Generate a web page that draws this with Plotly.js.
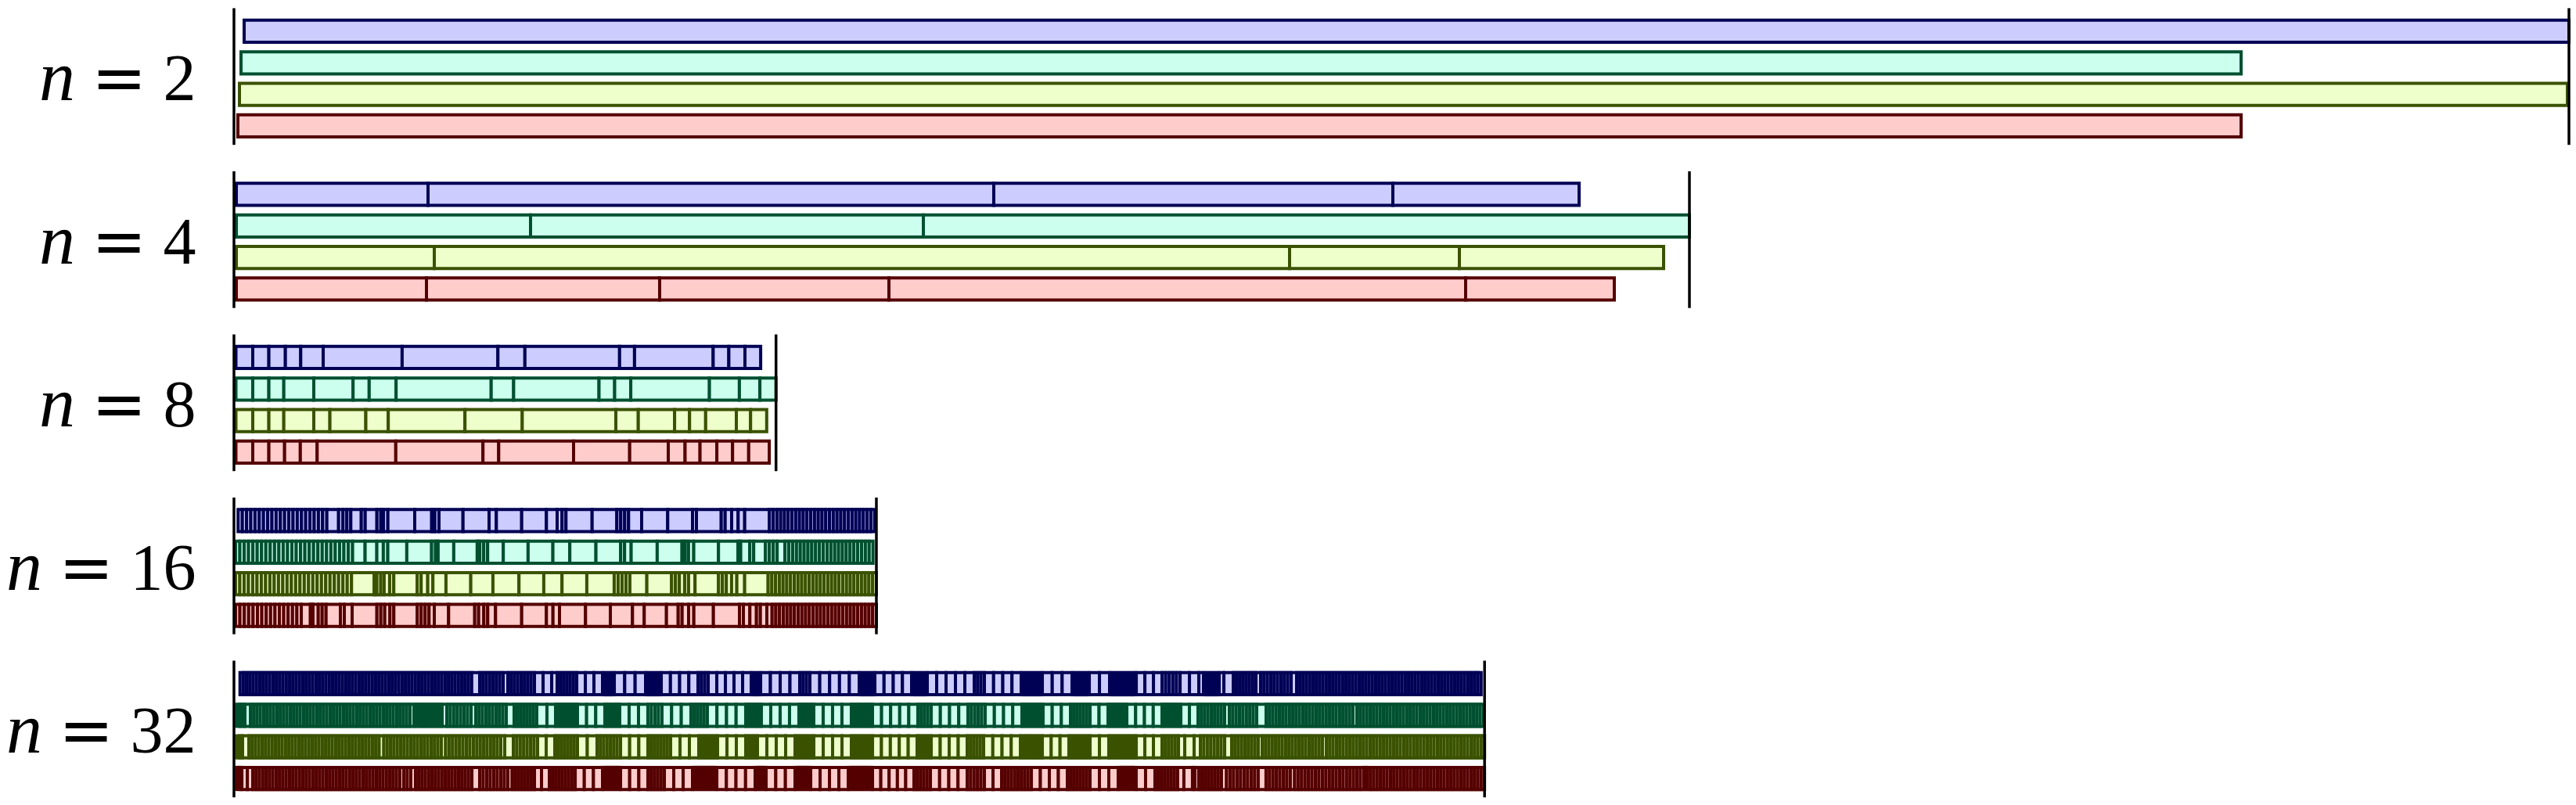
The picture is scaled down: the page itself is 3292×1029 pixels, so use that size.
<!DOCTYPE html>
<html><head><meta charset="utf-8">
<script src="https://cdn.plot.ly/plotly-3.0.1.min.js"></script>
<style>html,body{margin:0;padding:0;background:#fff}#chart{width:3292px;height:1029px}</style>
</head><body><div id="chart"></div>
<script>
// Group labels (value of n) and row colours (blue, cyan, yellow, red)
const groupLabels = ["2", "4", "8", "16", "32"];
const fillColors = ["#ccccff", "#ccffee", "#eeffcc", "#ffcccc"];
const edgeColors = ["#000055", "#005030", "#3a5200", "#550000"];

// Start times of each row (blue, cyan, yellow, red), same time unit as the segments
const starts_n2 = [13, 9, 7, 5];
const starts_n4 = [3, 3, 3, 3];
const starts_n8 = [2.5, 2.5, 2.5, 2.5];
const starts_n16 = [5.3, 2, 2, 2];
const starts_n32 = [7.7, 3.3, 3.3, 3.3];

// Segment durations
const n2_blue = [2971];
const n2_cyan = [2556];
const n2_yellow = [2975];
const n2_red = [2560];

const n4_blue = [245, 723, 510, 238];
const n4_cyan = [376, 502, 979];
const n4_yellow = [253, 1093, 217, 261];
const n4_red = [243, 298, 293, 737, 190];

const n8_blue = [21.5, 20.6, 21.1, 19.6, 28.7, 100.9, 122.4, 34.5, 121, 19.1, 100.5, 20, 20.6, 20.1];
const n8_cyan = [21.5, 20.6, 19.1, 38.3, 50.2, 20.6, 34.4, 121.5, 28.7, 109.1, 20, 20.6, 100.5, 38.3, 26.2, 20.6];
const n8_yellow = [21.5, 20.6, 19.1, 38.3, 20.6, 45.9, 28.7, 98, 73.2, 119.6, 28.7, 46.4, 19.1, 20.6, 39.2, 18.2, 20.6];
const n8_red = [21.5, 20.6, 20.1, 20.1, 21.5, 100.5, 111.4, 20.1, 95.7, 71.7, 49.3, 21.5, 19.1, 21.5, 20.1, 20.6, 26.3];

const n16_blue = [
5.4,5.4,5.4,5.4,5.4,5.4,5.4,5.4,5.4,5.4,5.4,5.4,5.4,5.4,5.4,5.4,5.4,5.4,5.4,5.4,5.4,
15,5.6,5,5,13.4,5,15,5,3.3,5.7,34.3,21.7,4,5.3,30.7,33.3,9.3,32.4,31.6,13.7,6.3,5,33.4,31.6,5,5,5,16.7,33.3,31.7,5,31.7,5,8.3,8.3,8.4,31.6,
4.8,4.8,4.8,4.8,4.8,4.8,4.8,4.8,4.8,4.8,4.8,4.8,4.8,4.8,4.8,4.8,4.8,4.8,4.8,4.8,4.8,4.8,4.8,4.8,4.8,4.8,4.8,4.8];
const n16_cyan = [
5.54,5.54,5.54,5.54,5.54,5.54,5.54,5.54,5.54,5.54,5.54,5.54,5.54,5.54,5.54,5.54,5.54,5.54,5.54,5.54,5.54,5.54,5.54,5.54,5.54,5.54,5.54,
16,15,8.3,5.7,24.3,31.7,5,3.3,20,30,3.3,5,5,20,31.7,31.7,21.6,33.4,31.6,5,8.4,33.3,31.7,4,4.3,6.7,31.6,25,3.4,11.6,5,15,5,5,5,10,
4.89,4.89,4.89,4.89,4.89,4.89,4.89,4.89,4.89,4.89,4.89,4.89,4.89,4.89,4.89,4.89,4.89,4.89,4.89,4.89,4.89,4.89,4.89];
const n16_yellow = [
5.49,5.49,5.49,5.49,5.49,5.49,5.49,5.49,5.49,5.49,5.49,5.49,5.49,5.49,5.49,5.49,5.49,5.49,5.49,5.49,5.49,5.49,5.49,5.49,5.49,5.49,5.49,
29,3.4,5,4.3,7,5.3,30,5,8.4,6.6,16.7,31.7,28.3,33.3,31.7,23.3,31.7,35,5,5,5,5,21.7,31.6,5,5,6.7,5,8.3,30,5,5,6.7,6.7,10,30,
4.77,4.77,4.77,4.77,4.77,4.77,4.77,4.77,4.77,4.77,4.77,4.77,4.77,4.77,4.77,4.77,4.77,4.77,4.77,4.77,4.77,4.77,4.77,4.77,4.77,4.77,4.77,4.77,4.77];
const n16_red = [
5.6,5.6,5.6,5.6,5.6,5.6,5.6,5.6,5.6,5.6,5.6,5.6,5.6,5.6,5.6,
11.7,3.3,6.7,5,5,18.3,5,10,31.7,5,5,6.6,5,30,5,5,5,6.7,18.3,33.4,5,6.6,5,10,33.4,31.6,8.4,8.3,33.3,31.7,28.3,15,28.4,15,5,8.3,6.7,25,33.3,5,8.3,8.4,5,8.3,6.7,
4.76,4.76,4.76,4.76,4.76,4.76,4.76,4.76,4.76,4.76,4.76,4.76,4.76,4.76,4.76,4.76,4.76,4.76,4.76,4.76,4.76,4.76,4.76,4.76,4.76,4.76,4.76,4.76];

const n32_blue = [
4.23,4.23,4.23,4.23,4.23,4.23,4.23,4.23,4.23,4.23,
4.23,4.23,4.23,4.23,4.23,4.23,4.23,4.23,4.23,4.23,
4.23,4.23,4.23,4.23,4.23,4.23,4.23,4.23,4.23,4.23,
4.23,4.23,4.23,4.23,4.23,4.23,4.23,4.23,4.23,4.23,
4.23,4.23,4.23,4.23,4.23,4.23,4.23,4.23,4.23,4.23,
4.23,4.23,4.23,4.23,4.23,4.23,4.23,4.23,4.23,4.23,
4.23,4.23,4.23,4.23,4.23,4.23,4.23,4.23,4.23,4.23,
10.2,
4.29,4.29,4.29,4.29,4.29,4.29,4.29,
6,
4.25,4.25,4.25,4.25,4.25,4.25,4.25,4.25,
11,11,7,
4.17,4.17,4.17,4.17,4.17,4.17,
11,11,11,
3.75,3.75,3.75,3.75,
13.3,13.3,13.4,
4,4,4,4,4,
11.75,11.75,11.75,11.75,
4.33,4.33,4.33,
11,11,11,11,11,
4,4,4,
12.5,12.5,12.5,12.5,
4.33,4.33,4.33,
12.6,12.6,12.6,12.6,12.6,
4,4,4,4,4,
11.75,11.75,11.75,11.75,
4,4,4,4,4,
12,12,12,12,12,
4.33,4.33,4.33,
11.75,11.75,11.75,11.75,
3.86,3.86,3.86,3.86,3.86,3.86,3.86,
12.67,12.67,12.67,
3.67,3.67,3.67,3.67,3.67,3.67,
13,13,
3.78,3.78,3.78,3.78,3.78,3.78,3.78,3.78,3.78,
11,11,11,
4.6,4.6,4.6,4.6,4.6,
12,12,6,
4,4,4,4,4,
6,12,
4.14,4.14,4.14,4.14,4.14,4.14,4.14,
6,
4.33,4.33,4.33,4.33,4.33,4.33,4.33,4.33,4.33,
7,
4.21,4.21,4.21,4.21,4.21,4.21,4.21,4.21,4.21,4.21,
4.21,4.21,4.21,4.21,4.21,4.21,4.21,4.21,4.21,4.21,
4.21,4.21,4.21,4.21,4.21,4.21,4.21,4.21,4.21,4.21,
4.21,4.21,4.21,4.21,4.21,4.21,4.21,4.21,4.21,4.21,
4.21,4.21,4.21,4.21,4.21,4.21,4.21,4.21,4.21,4.21,
4.21,4.21,4.21,4.21,4.21,4.21];

const n32_cyan = [
3.57,3.57,3.57,
7,
4.25,4.25,4.25,4.25,4.25,4.25,4.25,4.25,4.25,4.25,
4.25,4.25,4.25,4.25,4.25,4.25,4.25,4.25,4.25,4.25,
4.25,4.25,4.25,4.25,4.25,4.25,4.25,4.25,4.25,4.25,
4.25,4.25,4.25,4.25,4.25,4.25,4.25,4.25,4.25,4.25,
4.25,4.25,4.25,4.25,4.25,4.25,4.25,4.25,
5,
4,4,4,4,4,4,4,4,4,
6,
4.43,4.43,4.43,4.43,4.43,4.43,4.43,
6,
4.33,4.33,4.33,4.33,4.33,4.33,4.33,4.33,4.33,
10,
4.14,4.14,4.14,4.14,4.14,4.14,4.14,
13,11,
4,4,4,4,4,4,4,
11.67,11.67,11.67,
3.8,3.8,3.8,3.8,3.8,
12,12,12,
4.5,4.5,4.5,4.5,
12.33,12.33,12.33,
4.2,4.2,4.2,4.2,4.2,
12.25,12.25,12.25,12.25,
4,4,4,4,4,
12,12,12,12,
3.8,3.8,3.8,3.8,3.8,
12,12,12,12,
3.86,3.86,3.86,3.86,3.86,3.86,3.86,
11.6,11.6,11.6,11.6,11.6,
4.25,4.25,4.25,4.25,
11.75,11.75,11.75,11.75,
4.4,4.4,4.4,4.4,4.4,
11.75,11.75,11.75,11.75,
3.86,3.86,3.86,3.86,3.86,3.86,3.86,
11.67,11.67,11.67,
4.17,4.17,4.17,4.17,4.17,4.17,
11.5,11.5,
4,4,4,4,4,4,
11.25,11.25,11.25,11.25,
4,4,4,4,4,4,
11,11,
4.25,4.25,4.25,4.25,4.25,4.25,4.25,4.25,
6,
4.375,4.375,4.375,4.375,4.375,4.375,4.375,4.375,
12,
4.27,4.27,4.27,4.27,4.27,4.27,4.27,4.27,4.27,4.27,
4.27,4.27,4.27,4.27,4.27,4.27,4.27,4.27,4.27,4.27,
4.27,4.27,4.27,4.27,4.27,4.27,
5,
4.26,4.26,4.26,4.26,4.26,4.26,4.26,4.26,4.26,4.26,
4.26,4.26,4.26,4.26,4.26,4.26,4.26,4.26,4.26,4.26,
4.26,4.26,4.26,4.26,4.26,4.26,4.26,4.26,4.26,4.26,
4.26,4.26,4.26,4.26,4.26,4.26,4.26,4.26];

const n32_yellow = [
3.85,3.85,
8,
4.27,4.27,4.27,4.27,4.27,4.27,4.27,4.27,4.27,4.27,
4.27,4.27,4.27,4.27,4.27,4.27,4.27,4.27,4.27,4.27,
4.27,4.27,4.27,4.27,4.27,4.27,4.27,4.27,4.27,4.27,
4.27,4.27,4.27,4.27,4.27,4.27,4.27,4.27,4.27,
6,
4.32,4.32,4.32,4.32,4.32,4.32,4.32,4.32,4.32,4.32,
4.32,4.32,4.32,4.32,4.32,4.32,4.32,
5.5,
4.44,4.44,4.44,4.44,4.44,4.44,4.44,4.44,
4.5,
4.36,4.36,4.36,4.36,4.36,4.36,4.36,
5,11,
4.43,4.43,4.43,4.43,4.43,4.43,4.43,
11,11,
4.14,4.14,4.14,4.14,4.14,4.14,4.14,
12.5,12.5,
4.29,4.29,4.29,4.29,4.29,4.29,4.29,
11.67,11.67,11.67,
4.14,4.14,4.14,4.14,4.14,4.14,4.14,
12,12,12,
4,4,4,4,4,4,
12,12,12,
3.75,3.75,3.75,3.75,
12,12,12,12,
4,4,4,4,4,4,
12,12,12,12,
3.86,3.86,3.86,3.86,3.86,3.86,3.86,
11.4,11.4,11.4,11.4,11.4,
3.6,3.6,3.6,3.6,3.6,
11.5,11.5,11.5,11.5,
4.2,4.2,4.2,4.2,4.2,
11.75,11.75,11.75,11.75,
4,4,4,4,4,4,4,
11.33,11.33,11.33,
3.86,3.86,3.86,3.86,3.86,3.86,3.86,
12,12,
3.89,3.89,3.89,3.89,3.89,3.89,3.89,3.89,3.89,
11,11,11,
4.2,4.2,4.2,4.2,4.2,
8,12,8,
4.43,4.43,4.43,4.43,4.43,4.43,4.43,
9,
4.25,4.25,4.25,4.25,4.25,4.25,4.25,4.25,
5,
4.28,4.28,4.28,4.28,4.28,4.28,4.28,4.28,4.28,4.28,
4.28,4.28,4.28,4.28,4.28,4.28,4.28,4.28,
5,
4.3,4.3,4.3,4.3,4.3,4.3,4.3,4.3,4.3,4.3,
4.3,4.3,4.3,4.3,4.3,4.3,4.3,4.3,4.3,4.3,
4.3,4.3,4.3,4.3,4.3,4.3,4.3,4.3,4.3,4.3,
4.3,4.3,4.3,4.3,4.3,4.3,4.3,4.3,4.3,4.3,
4.3,4.3,4.3,4.3,4.3,4.3,4.3];

const n32_red = [
3.4,3.4,7,7,
4.27,4.27,4.27,4.27,4.27,4.27,4.27,4.27,4.27,4.27,
4.27,4.27,4.27,4.27,4.27,4.27,4.27,4.27,4.27,4.27,
4.27,4.27,4.27,4.27,4.27,4.27,4.27,4.27,4.27,4.27,
4.27,4.27,4.27,4.27,4.27,4.27,4.27,4.27,4.27,4.27,
4.27,4.27,4.27,4.27,
5,
4.5,4.5,
6,
4.24,4.24,4.24,4.24,4.24,4.24,4.24,4.24,4.24,4.24,
4.24,4.24,4.24,4.24,4.24,4.24,4.24,
10,
4.5,4.5,4.5,4.5,4.5,4.5,4.5,4.5,
5.5,
4.07,4.07,4.07,4.07,4.07,4.07,4.07,
9,10,
4.125,4.125,4.125,4.125,4.125,4.125,4.125,4.125,
11.67,11.67,11.67,
3.83,3.83,3.83,3.83,3.83,3.83,
11.67,11.67,11.67,
4.2,4.2,4.2,4.2,4.2,
12,12,12,
3.875,3.875,3.875,3.875,3.875,3.875,3.875,3.875,
12.25,12.25,12.25,12.25,
3.5,3.5,3.5,3.5,
12.33,12.33,12.33,
4,4,4,4,4,
12,12,12,12,
3.875,3.875,3.875,3.875,3.875,3.875,3.875,3.875,
10.6,10.6,10.6,10.6,10.6,
4.2,4.2,4.2,4.2,4.2,
11.75,11.75,11.75,11.75,
4.4,4.4,4.4,4.4,4.4,
11,11,
4.22,4.22,4.22,4.22,4.22,4.22,4.22,4.22,4.22,
11.5,11.5,11.5,11.5,
4.14,4.14,4.14,4.14,4.14,4.14,4.14,
12,12,12,
3.83,3.83,3.83,3.83,3.83,3.83,
12,12,
4.14,4.14,4.14,4.14,4.14,4.14,4.14,
8,11,3,5,
4.14,4.14,4.14,4.14,4.14,4.14,4.14,
6.5,
4.5,4.5,4.5,4.5,4.5,4.5,4.5,4.5,4.5,
10,
4.43,4.43,4.43,4.43,4.43,4.43,4.43,
5.5,
4.44,4.44,4.44,4.44,4.44,4.44,4.44,4.44,
4.5,
4.41,4.41,4.41,4.41,4.41,4.41,4.41,4.41,4.41,4.41,4.41,
4,
4.29,4.29,4.29,4.29,4.29,4.29,4.29,4.29,4.29,4.29,
4.29,4.29,4.29,4.29,4.29,4.29,4.29,4.29,4.29,4.29,
4.29,4.29,4.29,4.29,4.29,4.29,4.29,4.29,4.29,4.29,
4.29,4.29,4.29,4.29,4.29];

// ---- assemble ----
const groups = [
  {label: groupLabels[0], starts: starts_n2, rows: [n2_blue, n2_cyan, n2_yellow, n2_red]},
  {label: groupLabels[1], starts: starts_n4, rows: [n4_blue, n4_cyan, n4_yellow, n4_red]},
  {label: groupLabels[2], starts: starts_n8, rows: [n8_blue, n8_cyan, n8_yellow, n8_red]},
  {label: groupLabels[3], starts: starts_n16, rows: [n16_blue, n16_cyan, n16_yellow, n16_red]},
  {label: groupLabels[4], starts: starts_n32, rows: [n32_blue, n32_cyan, n32_yellow, n32_red]}
];

const GROUP_PITCH = 5.167;
const traces = [];
const shapes = [];
const annotations = [];

groups.forEach((grp, g) => {
  let maxEnd = 0;
  grp.rows.forEach((widths, r) => {
    const bases = [];
    let t = grp.starts[r];
    widths.forEach(w => { bases.push(t); t += w; });
    maxEnd = Math.max(maxEnd, t);
    const yv = g * GROUP_PITCH + r;
    traces.push({
      type: 'bar', orientation: 'h',
      x: widths, base: bases, y: widths.map(() => yv),
      width: 0.70,
      marker: {color: fillColors[r], line: {color: edgeColors[r], width: 4}},
      hoverinfo: 'skip', showlegend: false
    });
  });
  const y0 = g * GROUP_PITCH - 0.73, y1 = g * GROUP_PITCH + 3.6;
  shapes.push({type: 'line', xref: 'x', yref: 'y', x0: 0, x1: 0, y0: y0, y1: y1, line: {color: '#000', width: 3.5}});
  shapes.push({type: 'line', xref: 'x', yref: 'y', x0: maxEnd, x1: maxEnd, y0: y0, y1: y1, line: {color: '#000', width: 3.5}});
  annotations.push({
    xref: 'paper', yref: 'y', x: -0.0123, y: g * GROUP_PITCH + 1.5,
    xanchor: 'right', yanchor: 'middle', showarrow: false, yshift: 3,
    text: '<span style="font-size:92px"><i>n</i></span><span style="font-family:DejaVu Sans">\u2005=\u2005</span>' + grp.label,
    font: {family: 'Liberation Serif, DejaVu Serif, serif', size: 84, color: '#000'}
  });
});

const layout = {
  width: 3292, height: 1029,
  margin: {l: 289, r: 0, t: 0, b: 0, pad: 0},
  paper_bgcolor: '#fff', plot_bgcolor: '#fff',
  barmode: 'overlay', showlegend: false,
  xaxis: {range: [-10, 2993], visible: false, showgrid: false, zeroline: false, fixedrange: true},
  yaxis: {range: [24.51, -0.989], visible: false, showgrid: false, zeroline: false, fixedrange: true},
  shapes: shapes, annotations: annotations
};

Plotly.newPlot('chart', traces, layout, {staticPlot: true, displayModeBar: false});
</script>
</body></html>
